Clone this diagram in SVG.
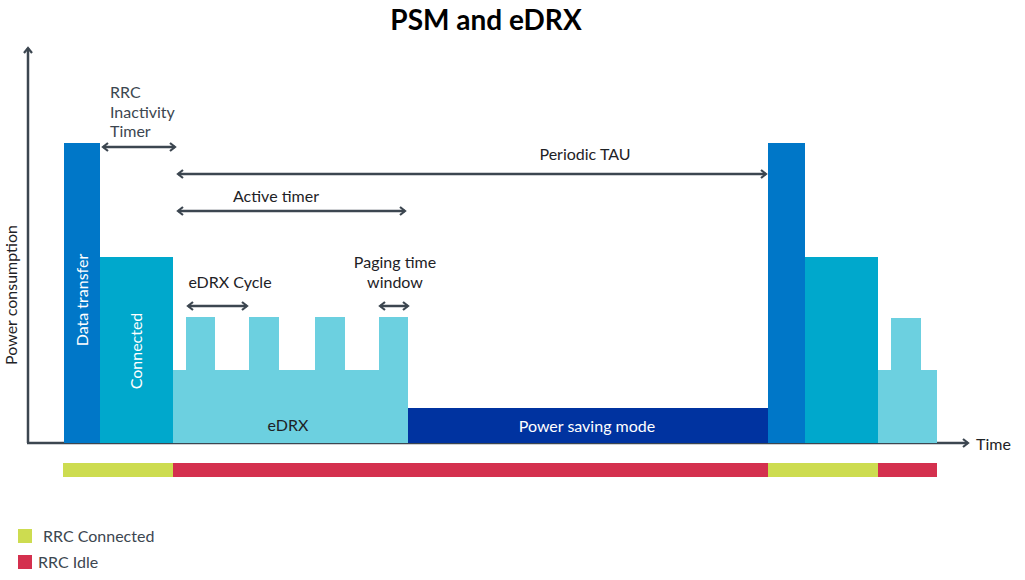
<svg xmlns="http://www.w3.org/2000/svg" width="1025" height="580" viewBox="0 0 1025 580">
<defs>
<style>
text{font-family:Lato,"Open Sans","Liberation Sans",sans-serif;}
.lbl{font-size:16px;fill:#1e2226;}
.gray{font-size:16px;fill:#3c4650;}
.wt{font-size:16px;fill:#ffffff;}
.ax{stroke:#3c4650;stroke-width:2.5;fill:none;}
.ar{stroke:#3c4650;stroke-width:2.5;fill:none;}
</style>
<marker id="ah" viewBox="0 0 10 10" refX="8" refY="5" markerWidth="10" markerHeight="10" markerUnits="userSpaceOnUse" orient="auto-start-reverse">
<path d="M3,1 L8,5 L3,9" fill="none" stroke="#3c4650" stroke-width="2.2"/>
</marker>
</defs>
<rect width="1025" height="580" fill="#ffffff"/>
<text x="486" y="30" text-anchor="middle" font-size="28" font-weight="bold" fill="#000">PSM and eDRX</text>

<g id="axes">
<line class="ax" x1="28" y1="443" x2="28" y2="48" marker-end="url(#ah)"/>
<line class="ax" x1="27" y1="443" x2="968" y2="443" marker-end="url(#ah)"/>
<text class="lbl" x="976" y="450">Time</text>
<text class="lbl" x="0" y="0" transform="translate(17,295) rotate(-90)" text-anchor="middle" font-size="15">Power consumption</text>
</g>

<g id="data-transfer">
<rect x="64" y="143" width="36" height="300" fill="#0077c8"/>
<text class="wt" transform="translate(88,300) rotate(-90)" text-anchor="middle">Data transfer</text>
</g>
<g id="connected">
<rect x="100" y="257" width="73" height="186" fill="#00a8cc"/>
<text class="wt" transform="translate(142,351) rotate(-90)" text-anchor="middle">Connected</text>
</g>
<g id="edrx">
<path d="M173,370 H186 V317 H215 V370 H249 V317 H279 V370 H315 V317 H345 V370 H379 V317 H408 V443 H173 Z" fill="#6cd0e0"/>
<text class="lbl" x="288" y="431" text-anchor="middle">eDRX</text>
</g>
<g id="psm">
<rect x="408" y="408" width="360" height="35" fill="#0033a0"/>
<text class="wt" x="587" y="432" text-anchor="middle">Power saving mode</text>
</g>
<g id="data-transfer-2">
<rect x="768" y="143" width="37" height="300" fill="#0077c8"/>
</g>
<g id="connected-2">
<rect x="805" y="257" width="73" height="186" fill="#00a8cc"/>
</g>
<g id="edrx-2">
<path d="M878,370 H891 V318 H921 V370 H937 V443 H878 Z" fill="#6cd0e0"/>
</g>

<g id="rrc-state">
<rect x="63" y="463" width="110" height="14" fill="#cddc50"/>
<rect x="173" y="463" width="595" height="14" fill="#d4304e"/>
<rect x="768" y="463" width="110" height="14" fill="#cddc50"/>
<rect x="878" y="463" width="59" height="14" fill="#d4304e"/>
</g>

<g id="connectors">
<line class="ar" x1="103" y1="147" x2="175" y2="147" marker-start="url(#ah)" marker-end="url(#ah)"/>
<line class="ar" x1="178" y1="174" x2="766" y2="174" marker-start="url(#ah)" marker-end="url(#ah)"/>
<line class="ar" x1="178" y1="211" x2="405" y2="211" marker-start="url(#ah)" marker-end="url(#ah)"/>
<line class="ar" x1="188" y1="306" x2="247" y2="306" marker-start="url(#ah)" marker-end="url(#ah)"/>
<line class="ar" x1="380" y1="306" x2="408" y2="306" marker-start="url(#ah)" marker-end="url(#ah)"/>
</g>

<g id="labels">
<text class="gray" x="110" y="98">RRC</text>
<text class="gray" x="110" y="118">Inactivity</text>
<text class="gray" x="110" y="137">Timer</text>
<text class="lbl" x="585" y="160" text-anchor="middle">Periodic TAU</text>
<text class="lbl" x="276" y="202" text-anchor="middle">Active timer</text>
<text class="lbl" x="230" y="288" text-anchor="middle">eDRX Cycle</text>
<text class="lbl" x="395" y="268" text-anchor="middle">Paging time</text>
<text class="lbl" x="395" y="288" text-anchor="middle">window</text>
</g>

<g id="legend">
<rect x="18" y="529" width="14" height="14" fill="#cddc50"/>
<text class="gray" x="43" y="542">RRC Connected</text>
<rect x="18" y="555" width="14" height="14" fill="#d4304e"/>
<text class="gray" x="38" y="568">RRC Idle</text>
</g>
</svg>
